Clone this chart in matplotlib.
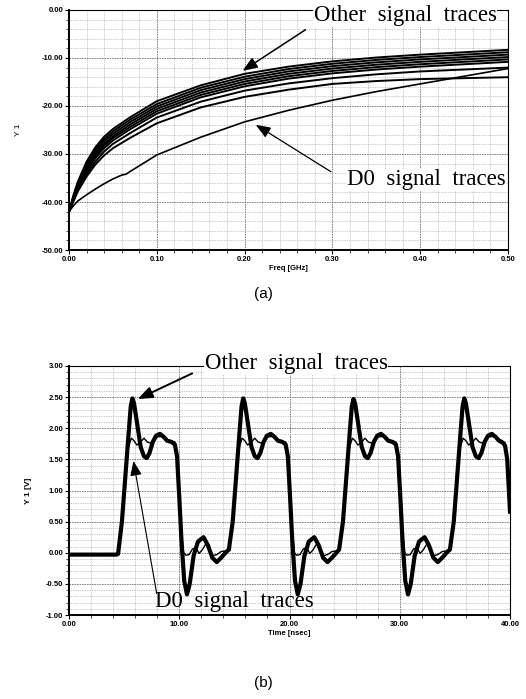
import matplotlib
matplotlib.use('Agg')
import matplotlib.pyplot as plt
from matplotlib.ticker import MultipleLocator, FormatStrFormatter

# ---- (a) frequency response data ----
freq = [0, 0.005, 0.01, 0.02, 0.03, 0.04, 0.05, 0.07, 0.1, 0.15, 0.2, 0.25, 0.3, 0.35, 0.4, 0.45, 0.5]
other_1 = [-42, -38.6, -35.8, -31.6, -28.6, -26.4, -24.8, -22.3, -19.0, -15.7, -13.3, -11.8, -10.7, -9.9, -9.3, -8.8, -8.3]
other_2 = [-42, -38.9, -36.2, -32.1, -29.1, -26.9, -25.3, -22.8, -19.6, -16.2, -13.9, -12.3, -11.2, -10.4, -9.8, -9.3, -8.8]
other_3 = [-42, -39.1, -36.5, -32.5, -29.6, -27.4, -25.8, -23.3, -20.1, -16.7, -14.4, -12.8, -11.7, -10.9, -10.3, -9.8, -9.3]
other_4 = [-42, -39.3, -36.8, -32.9, -30.1, -27.9, -26.3, -23.8, -20.6, -17.2, -14.9, -13.3, -12.2, -11.4, -10.8, -10.3, -9.8]
other_5 = [-42, -39.4, -37.0, -33.3, -30.5, -28.3, -26.7, -24.3, -21.1, -17.7, -15.4, -13.8, -12.7, -11.9, -11.3, -10.8, -10.3]
other_6 = [-42, -39.5, -37.2, -33.7, -30.9, -28.8, -27.2, -24.8, -21.6, -18.2, -15.9, -14.3, -13.2, -12.4, -11.8, -11.3, -10.8]
other_7 = [-42, -39.7, -37.5, -34.2, -31.6, -29.5, -27.9, -25.6, -22.4, -19.1, -16.8, -15.3, -14.2, -13.4, -12.8, -12.4, -12.0]
other_8 = [-42, -39.9, -37.8, -34.7, -32.2, -30.3, -28.8, -26.6, -23.6, -20.3, -18.1, -16.6, -15.4, -14.8, -14.4, -14.2, -14.0]
other_traces = [other_1, other_2, other_3, other_4, other_5, other_6, other_7, other_8]

d0_freq = [0, 0.005, 0.01, 0.02, 0.03, 0.04, 0.05, 0.06, 0.065, 0.07, 0.1, 0.15, 0.2, 0.25, 0.3, 0.35, 0.4, 0.45, 0.5]
d0_mag = [-42, -40.8, -39.8, -38.5, -37.3, -36.2, -35.2, -34.4, -34.2, -33.6, -30.2, -26.5, -23.3, -20.9, -18.8, -17.0, -15.4, -13.8, -12.2]

# ---- (b) time-domain data ----
t_other = [0, 4.3, 4.45, 4.8, 5.1, 5.4, 5.6, 5.75, 5.9, 6.2, 6.5, 6.8, 7.05, 7.3, 7.6, 7.9, 8.25, 8.6, 8.9, 9.3, 9.6, 9.8,
           10.0, 10.2, 10.45, 10.7, 10.95, 11.3, 11.7, 12.2, 12.6, 13.0, 13.4, 13.8, 14.3,
           14.5, 14.85, 15.15, 15.45, 15.65, 15.8, 15.95, 16.25, 16.55, 16.85, 17.1, 17.35, 17.65, 17.95, 18.3, 18.65, 18.95,
           19.35, 19.65, 19.85, 20.05, 20.25, 20.5, 20.75, 21.0, 21.35, 21.75, 22.25, 22.65, 23.05, 23.45, 23.85, 24.35,
           24.5, 24.85, 25.15, 25.45, 25.65, 25.8, 25.95, 26.25, 26.55, 26.85, 27.1, 27.35, 27.65, 27.95, 28.3, 28.65, 28.95,
           29.35, 29.65, 29.85, 30.05, 30.25, 30.5, 30.75, 31.0, 31.35, 31.75, 32.25, 32.65, 33.05, 33.45, 33.85, 34.35,
           34.55, 34.9, 35.2, 35.5, 35.7, 35.85, 36.0, 36.3, 36.6, 36.9, 37.15, 37.4, 37.7, 38.0, 38.35, 38.7, 39.0,
           39.4, 39.55, 39.75, 40.0]
v_other = [-0.03, -0.03, -0.02, 0.5, 1.2, 1.9, 2.35, 2.48, 2.4, 2.05, 1.7, 1.55, 1.52, 1.6, 1.78, 1.88, 1.91, 1.86, 1.8, 1.78, 1.74, 1.55,
           0.9, 0.2, -0.45, -0.67, -0.5, -0.05, 0.18, 0.25, 0.12, -0.08, -0.15, -0.08, 0.02,
           0.05, 0.5, 1.2, 1.9, 2.35, 2.48, 2.4, 2.05, 1.7, 1.55, 1.52, 1.6, 1.78, 1.88, 1.91, 1.86, 1.8,
           1.78, 1.74, 1.55, 0.9, 0.2, -0.45, -0.67, -0.5, -0.05, 0.18, 0.25, 0.12, -0.08, -0.15, -0.08, 0.02,
           0.05, 0.5, 1.2, 1.9, 2.35, 2.47, 2.4, 2.05, 1.7, 1.55, 1.52, 1.6, 1.78, 1.88, 1.91, 1.86, 1.8,
           1.78, 1.74, 1.55, 0.9, 0.2, -0.45, -0.67, -0.5, -0.05, 0.18, 0.25, 0.12, -0.08, -0.15, -0.08, 0.02,
           0.05, 0.5, 1.2, 1.9, 2.35, 2.48, 2.4, 2.05, 1.7, 1.55, 1.52, 1.6, 1.78, 1.88, 1.91, 1.86, 1.8,
           1.76, 1.72, 1.5, 0.66]

t_d0 = [0, 4.3, 4.45, 4.8, 5.1, 5.4, 5.65, 5.9, 6.15, 6.5, 6.8, 7.1, 7.4, 7.7, 8.0, 8.4, 8.8, 9.2, 9.6, 9.8,
        10.0, 10.2, 10.4, 10.6, 10.9, 11.2, 11.5, 11.8, 12.1, 12.4, 12.7, 13.0, 13.4, 13.8, 14.3,
        14.5, 14.85, 15.15, 15.45, 15.7, 15.95, 16.2, 16.55, 16.85, 17.15, 17.45, 17.75, 18.05, 18.45, 18.85, 19.25, 19.65, 19.85,
        20.05, 20.25, 20.45, 20.65, 20.95, 21.25, 21.55, 21.85, 22.15, 22.45, 22.75, 23.05, 23.45, 23.85, 24.35,
        24.5, 24.85, 25.15, 25.45, 25.7, 25.95, 26.2, 26.55, 26.85, 27.15, 27.45, 27.75, 28.05, 28.45, 28.85, 29.25, 29.65, 29.85,
        30.05, 30.25, 30.45, 30.65, 30.95, 31.25, 31.55, 31.85, 32.15, 32.45, 32.75, 33.05, 33.45, 33.85, 34.35,
        34.55, 34.9, 35.2, 35.5, 35.75, 36.0, 36.25, 36.6, 36.9, 37.2, 37.5, 37.8, 38.1, 38.5, 38.9, 39.3, 39.55, 39.75, 40.0]
v_d0 = [-0.03, -0.03, -0.02, 0.5, 1.2, 1.7, 1.84, 1.8, 1.73, 1.78, 1.84, 1.78, 1.76, 1.82, 1.86, 1.87, 1.83, 1.8, 1.78, 1.6,
        1.0, 0.35, 0.0, -0.04, -0.03, 0.06, 0.08, -0.01, 0.05, 0.14, 0.05, -0.05, -0.03, 0.02, 0.03,
        0.05, 0.5, 1.2, 1.7, 1.84, 1.8, 1.73, 1.78, 1.84, 1.78, 1.76, 1.82, 1.86, 1.87, 1.83, 1.8, 1.78, 1.6,
        1.0, 0.35, 0.0, -0.04, -0.03, 0.06, 0.08, -0.01, 0.05, 0.14, 0.05, -0.05, -0.03, 0.02, 0.03,
        0.05, 0.5, 1.2, 1.7, 1.84, 1.8, 1.73, 1.78, 1.84, 1.78, 1.76, 1.82, 1.86, 1.87, 1.83, 1.8, 1.78, 1.6,
        1.0, 0.35, 0.0, -0.04, -0.03, 0.06, 0.08, -0.01, 0.05, 0.14, 0.05, -0.05, -0.03, 0.02, 0.03,
        0.05, 0.5, 1.2, 1.7, 1.84, 1.8, 1.73, 1.78, 1.84, 1.78, 1.76, 1.82, 1.86, 1.87, 1.83, 1.8, 1.76, 1.55, 0.7]

tick_font = dict(family='Liberation Sans', size=5.5, weight='bold')
serif = 'Liberation Serif'


def style_axes(ax):
    ax.grid(True, which='major', color='0.45', linestyle=(0, (2, 1)), linewidth=0.6)
    ax.grid(True, which='minor', color='0.6', linestyle=(0, (1, 1.5)), linewidth=0.5)
    ax.set_axisbelow(True)
    for side in ['left', 'bottom']:
        ax.spines[side].set_linewidth(1.4)
    for side in ['top', 'right']:
        ax.spines[side].set_linewidth(0.8)
    ax.tick_params(which='major', direction='out', length=3, width=0.8, pad=1, top=False, right=False)
    ax.tick_params(which='minor', direction='out', length=2, width=0.5, top=False, right=False)
    for lab in ax.get_xticklabels() + ax.get_yticklabels():
        lab.set_fontproperties(matplotlib.font_manager.FontProperties(**tick_font))


fig = plt.figure(figsize=(5.26, 6.99), dpi=100)

# ---------------- (a) ----------------
ax1 = fig.add_axes([69 / 526, 1 - 250 / 699, 439 / 526, 240 / 699])
for tr in other_traces:
    ax1.plot(freq, tr, color='black', linewidth=1.4)
ax1.plot(d0_freq, d0_mag, color='black', linewidth=1.2)
ax1.set_xlim(0, 0.5)
ax1.set_ylim(-50, 0)
ax1.xaxis.set_major_locator(MultipleLocator(0.1))
ax1.xaxis.set_minor_locator(MultipleLocator(0.02))
ax1.yaxis.set_major_locator(MultipleLocator(10))
ax1.yaxis.set_minor_locator(MultipleLocator(2))
ax1.xaxis.set_major_formatter(FormatStrFormatter('%.2f'))
ax1.yaxis.set_major_formatter(FormatStrFormatter('%.2f'))
style_axes(ax1)
ax1.set_xlabel('Freq [GHz]', fontfamily='Liberation Sans', fontsize=5.5, fontweight='bold', labelpad=2)
ax1.set_ylabel('Y 1', fontfamily='Liberation Sans', fontsize=6, labelpad=14)

ax1.text(0.383, -1.2, 'Other  signal  traces', family=serif, fontsize=16.5, ha='center', va='center',
         bbox=dict(facecolor='white', edgecolor='none', pad=0.5), clip_on=False)
ax1.annotate('', xy=(0.195, -13.0), xytext=(0.272, -3.8),
             arrowprops=dict(arrowstyle='-|>,head_length=0.9,head_width=0.35', color='black', lw=1.1))
ax1.text(0.407, -35.4, 'D0  signal  traces', family=serif, fontsize=16.5, ha='center', va='center',
         bbox=dict(facecolor='white', edgecolor='none', pad=0.5), clip_on=False)
ax1.annotate('', xy=(0.21, -23.6), xytext=(0.301, -34.0),
             arrowprops=dict(arrowstyle='-|>,head_length=0.9,head_width=0.35', color='black', lw=0.9))

fig.text(263 / 526, 1 - 294 / 699, '(a)', fontfamily='Liberation Sans', fontsize=11, ha='center', va='center')

# ---------------- (b) ----------------
ax2 = fig.add_axes([69 / 526, 1 - 615 / 699, 441 / 526, 249 / 699])
ax2.plot(t_d0, v_d0, color='black', linewidth=1.0)
ax2.plot(t_other, v_other, color='black', linewidth=3.0)
ax2.set_xlim(0, 40)
ax2.set_ylim(-1, 3)
ax2.xaxis.set_major_locator(MultipleLocator(10))
ax2.xaxis.set_minor_locator(MultipleLocator(2))
ax2.yaxis.set_major_locator(MultipleLocator(0.5))
ax2.yaxis.set_minor_locator(MultipleLocator(0.1))
ax2.xaxis.set_major_formatter(FormatStrFormatter('%.2f'))
ax2.yaxis.set_major_formatter(FormatStrFormatter('%.2f'))
style_axes(ax2)
ax2.set_xlabel('Time [nsec]', fontfamily='Liberation Sans', fontsize=5.5, fontweight='bold', labelpad=2)
ax2.set_ylabel('Y 1 [V]', fontfamily='Liberation Sans', fontsize=6, fontweight='bold', labelpad=10)

ax2.text(20.6, 3.04, 'Other  signal  traces', family=serif, fontsize=16.5, ha='center', va='center',
         bbox=dict(facecolor='white', edgecolor='none', pad=0.5), clip_on=False)
ax2.annotate('', xy=(6.0, 2.45), xytext=(11.4, 2.9),
             arrowprops=dict(arrowstyle='-|>,head_length=0.9,head_width=0.35', color='black', lw=1.4))
ax2.text(15.0, -0.79, 'D0  signal  traces', family=serif, fontsize=16.5, ha='center', va='center',
         clip_on=False)
ax2.annotate('', xy=(5.8, 1.52), xytext=(8.0, -0.7),
             arrowprops=dict(arrowstyle='-|>,head_length=0.9,head_width=0.35', color='black', lw=0.8))

fig.text(263 / 526, 1 - 683 / 699, '(b)', fontfamily='Liberation Sans', fontsize=11, ha='center', va='center')

fig.savefig('out.png', dpi=100, facecolor='white')
